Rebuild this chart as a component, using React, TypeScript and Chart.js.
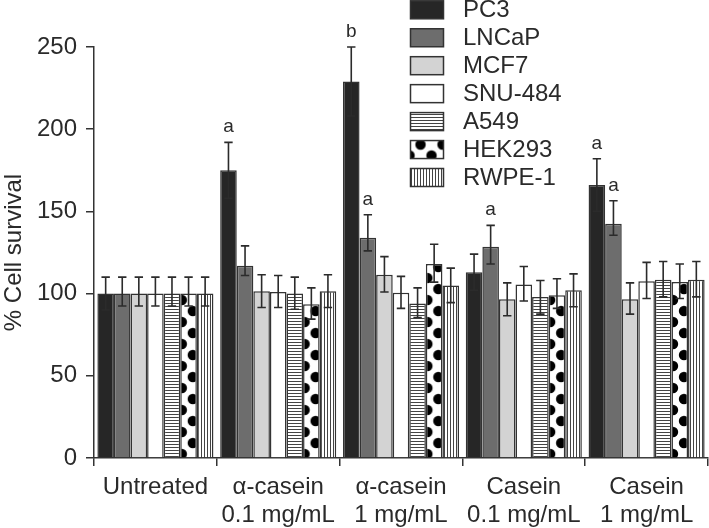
import React, { useEffect, useRef } from 'react';
import { Chart, registerables } from 'chart.js';
Chart.register(...registerables);

const categories: string[][] = [
  ['Untreated'],
  ['α-casein', '0.1 mg/mL'],
  ['α-casein', '1 mg/mL'],
  ['Casein', '0.1 mg/mL'],
  ['Casein', '1 mg/mL'],
];

const seriesNames = ['PC3', 'LNCaP', 'MCF7', 'SNU-484', 'A549', 'HEK293', 'RWPE-1'];

const pc3 = [100, 175, 229, 113, 166];
const lncap = [100, 117, 134, 128.5, 142.5];
const mcf7 = [100, 101.5, 111.5, 96.5, 96.5];
const snu484 = [100, 101, 100.5, 105.5, 107.5];
const a549 = [100, 100, 94, 98, 108.5];
const hek293 = [100, 93.5, 118, 99, 107];
const rwpe1 = [100, 101.5, 105, 102, 108.5];

const pc3Up = [10, 17, 21, 11, 16];
const pc3Down = [10, 17, 21, 11, 16];
const lncapUp = [10, 12, 14, 13, 14];
const lncapDown = [7.5, 6, 8, 10.5, 7];
const mcf7Up = [10, 10, 11, 10, 10];
const mcf7Down = [7.5, 10, 10.5, 10, 9];
const snuUp = [10, 10, 10, 11, 11.5];
const snuDown = [7.5, 9.5, 9.5, 10, 10.5];
const a549Up = [10, 10, 9.5, 10, 11];
const a549Down = [7.5, 9.5, 8.5, 10.5, 10.5];
const hekUp = [10, 10, 12, 10, 11];
const hekDown = [7.5, 9, 11, 8, 10];
const rwpeUp = [10, 10, 10.5, 10, 11];
const rwpeDown = [7.5, 10, 10.5, 10, 10.5];

// significance letters: [series index, category index, letter]
const sigSeries = [0, 0, 1, 1, 0, 1];
const sigCats = [1, 2, 2, 3, 4, 4];
const sigText = ['a', 'b', 'a', 'a', 'a', 'a'];

const yTicks = [0, 50, 100, 150, 200, 250];

const FONT = '"Liberation Sans", Arial, Helvetica, sans-serif';
const CP = 0.945;

function makeTile(w: number, h: number, draw: (c: CanvasRenderingContext2D) => void) {
  const cv = document.createElement('canvas');
  cv.width = w;
  cv.height = h;
  const c = cv.getContext('2d')!;
  draw(c);
  return cv;
}

export default function App() {
  const ref = useRef<HTMLCanvasElement>(null);

  useEffect(() => {
    const canvas = ref.current!;
    const ctx = canvas.getContext('2d')!;

    const hTile = makeTile(4, 3, (c) => {
      c.fillStyle = '#fff';
      c.fillRect(0, 0, 4, 3);
      c.fillStyle = '#444';
      c.fillRect(0, 0, 4, 1);
    });
    const vTile = makeTile(3, 4, (c) => {
      c.fillStyle = '#fff';
      c.fillRect(0, 0, 3, 4);
      c.fillStyle = '#444';
      c.fillRect(0, 0, 1, 4);
    });
    const dTile = makeTile(22, 22, (c) => {
      c.fillStyle = '#fff';
      c.fillRect(0, 0, 22, 22);
      c.fillStyle = '#000';
      const centers = [
        [0, 0], [22, 0], [0, 22], [22, 22], [11, 11],
      ];
      for (const [x, y] of centers) {
        c.beginPath();
        c.arc(x, y, 5.2, 0, Math.PI * 2);
        c.fill();
      }
    });
    const hPat = ctx.createPattern(hTile, 'repeat')!;
    const vPat = ctx.createPattern(vTile, 'repeat')!;
    const dotCache: Record<string, CanvasPattern> = {};
    const dots = (dx: number, dy: number) => {
      const key = dx.toFixed(2) + ',' + dy.toFixed(2);
      if (!dotCache[key]) {
        const p = ctx.createPattern(dTile, 'repeat')!;
        p.setTransform(new DOMMatrix().translate(dx, dy));
        dotCache[key] = p;
      }
      return dotCache[key];
    };
    const baseDots = dots(0, 14);

    const hekBg = (c: any) => {
      if (c.type !== 'data') return baseDots;
      const xs = c.chart.scales?.x;
      if (!xs) return baseDots;
      const catW = (xs.right - xs.left) / categories.length;
      const center = xs.getPixelForValue(c.dataIndex);
      const bw = (catW * CP) / 7;
      const left = center - (catW * CP) / 2 + c.datasetIndex * bw;
      return dots(left + 1.5, 14);
    };

    const values = [pc3, lncap, mcf7, snu484, a549, hek293, rwpe1];
    const ups = [pc3Up, lncapUp, mcf7Up, snuUp, a549Up, hekUp, rwpeUp];
    const downs = [pc3Down, lncapDown, mcf7Down, snuDown, a549Down, hekDown, rwpeDown];
    const fills: any[] = ['#262626', '#6d6d6d', '#d3d3d3', '#ffffff', hPat, hekBg, vPat];

    const errorBars = {
      id: 'errorBars',
      afterDatasetsDraw(chart: any) {
        const c = chart.ctx;
        const ys = chart.scales.y;
        c.save();
        c.strokeStyle = '#2b2b2b';
        c.lineWidth = 1.6;
        chart.data.datasets.forEach((ds: any, di: number) => {
          const meta = chart.getDatasetMeta(di);
          meta.data.forEach((bar: any, i: number) => {
            const v = values[di][i];
            const yTop = ys.getPixelForValue(v + ups[di][i]);
            const yBot = ys.getPixelForValue(v - downs[di][i]);
            const x = bar.x;
            c.beginPath();
            c.moveTo(x, yTop);
            c.lineTo(x, yBot);
            c.moveTo(x - 4.2, yTop);
            c.lineTo(x + 4.2, yTop);
            c.moveTo(x - 4.2, yBot);
            c.lineTo(x + 4.2, yBot);
            c.stroke();
          });
        });
        c.fillStyle = '#2a2a2a';
        c.font = `19px ${FONT}`;
        c.textAlign = 'center';
        c.textBaseline = 'alphabetic';
        sigText.forEach((t, k) => {
          const di = sigSeries[k];
          const i = sigCats[k];
          const bar = chart.getDatasetMeta(di).data[i];
          const yTop = ys.getPixelForValue(values[di][i] + ups[di][i]);
          c.fillText(t, bar.x, yTop - 10);
        });
        c.restore();
      },
    };

    const legend = {
      id: 'customLegend',
      afterDraw(chart: any) {
        const c = chart.ctx;
        c.save();
        seriesNames.forEach((name, i) => {
          const bx = 410.5;
          const by = 0.8 + i * 27.95;
          const bw = 33;
          const bh = 18;
          let fill: any = fills[i];
          if (i === 5) fill = dots(bx + 10, by + 4);
          c.fillStyle = fill;
          c.fillRect(bx, by, bw, bh);
          c.strokeStyle = '#333';
          c.lineWidth = 1.5;
          c.strokeRect(bx, by, bw, bh);
          c.fillStyle = '#2a2a2a';
          c.font = `24px ${FONT}`;
          c.textAlign = 'left';
          c.textBaseline = 'middle';
          c.fillText(name, 463, by + bh / 2 + 1);
        });
        c.restore();
      },
    };

    const chart = new Chart(canvas, {
      type: 'bar',
      data: {
        labels: categories as any,
        datasets: seriesNames.map((name, i) => ({
          label: name,
          data: values[i],
          backgroundColor: fills[i],
          borderColor: '#333',
          borderWidth: 1.5,
          borderSkipped: 'start',
          categoryPercentage: CP,
          barPercentage: 1,
        })),
      },
      options: {
        responsive: false,
        animation: false,
        layout: { padding: { top: 47, right: 1, left: 0, bottom: 0 } },
        plugins: {
          legend: { display: false },
          tooltip: { enabled: false },
        },
        scales: {
          x: {
            offset: true,
            grid: {
              display: true,
              offset: true,
              drawOnChartArea: false,
              drawTicks: true,
              tickLength: 8,
              color: '#333',
              lineWidth: 1.5,
            },
            border: { display: true, color: '#333', width: 1.5 },
            ticks: {
              color: '#2a2a2a',
              font: { family: FONT, size: 24, lineHeight: 1.15 },
              padding: 8,
              autoSkip: false,
              maxRotation: 0,
              minRotation: 0,
            },
            afterFit: (s: any) => {
              s.height = 70;
            },
          },
          y: {
            min: 0,
            max: 250,
            afterBuildTicks: (s: any) => {
              s.ticks = yTicks.map((v) => ({ value: v }));
            },
            grid: {
              display: true,
              drawOnChartArea: false,
              drawTicks: true,
              tickLength: 8,
              color: '#333',
              lineWidth: 1.5,
            },
            border: { display: true, color: '#333', width: 1.5 },
            ticks: {
              color: '#2a2a2a',
              font: { family: FONT, size: 24 },
              padding: 9,
            },
            title: {
              display: true,
              text: '% Cell survival',
              color: '#2a2a2a',
              font: { family: FONT, size: 24 },
              padding: { top: 0, bottom: 0 },
            },
            afterFit: (s: any) => {
              s.width = 94;
            },
          },
        },
      },
      plugins: [errorBars, legend],
    });

    return () => chart.destroy();
  }, []);

  return (
    <div style={{ position: 'fixed', left: 0, top: 0, width: 709, height: 528, background: '#fff' }}>
      <canvas ref={ref} width={709} height={528} style={{ width: 709, height: 528, display: 'block' }} />
    </div>
  );
}
